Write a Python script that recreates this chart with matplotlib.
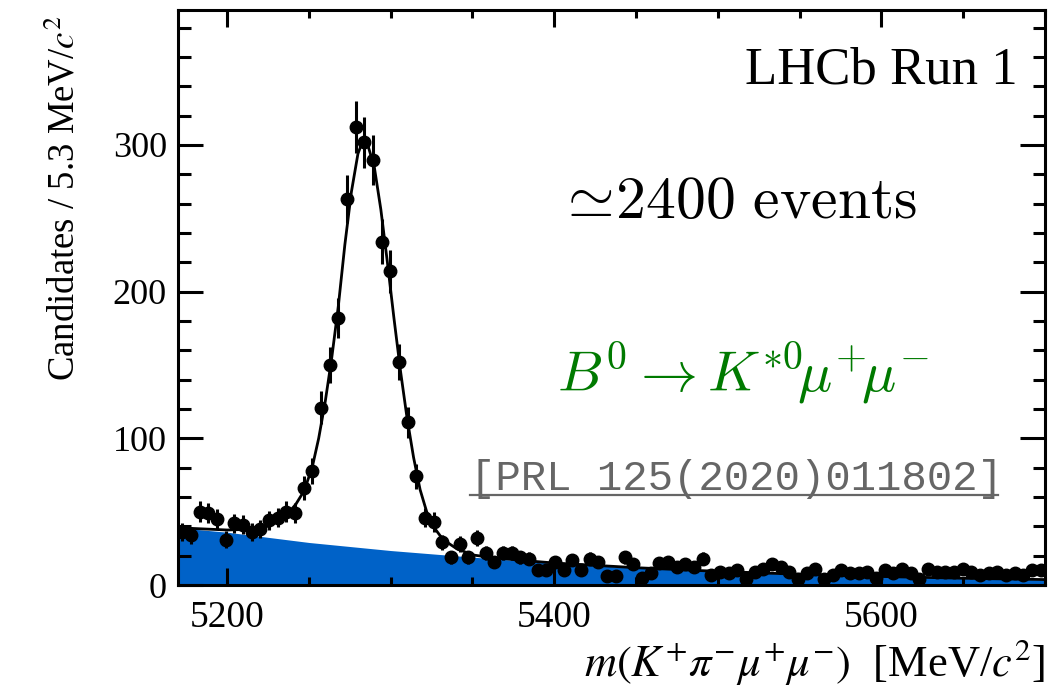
import numpy as np
import matplotlib.pyplot as plt
from matplotlib.ticker import MultipleLocator

plt.rcParams['font.family'] = ['Liberation Serif', 'DejaVu Serif']
plt.rcParams['mathtext.fontset'] = 'stix'

# histogram: 100 bins of 5.3 MeV between 5170 and 5700
m_lo, m_hi, nbins = 5170.0, 5700.0, 100
counts = [36, 34, 50, 49, 45, 31, 42, 41, 36, 38,
          44, 46, 50, 49, 66, 78, 121, 150, 182, 263,
          312, 302, 290, 234, 214, 152, 111, 74, 46, 43,
          29, 19, 28, 19, 32, 22, 16, 22, 22, 19,
          18, 10, 10, 16, 10, 17, 10, 18, 16, 6,
          6, 19, 14, 5, 8, 15, 16, 12, 14, 12,
          18, 7, 9, 8, 10, 4, 9, 11, 14, 12,
          9, 4, 8, 11, 4, 7, 10, 8, 8, 9,
          5, 10, 8, 11, 8, 4, 11, 9, 9, 9,
          11, 9, 7, 8, 9, 7, 8, 7, 10, 10]

# fitted total model
fit_mass = [5170, 5200, 5215, 5225, 5235, 5242, 5247, 5252, 5256, 5260,
            5264, 5268, 5272, 5276, 5280, 5283, 5286, 5290, 5294, 5298,
            5302, 5306, 5310, 5314, 5318, 5322, 5326, 5332, 5340, 5350,
            5360, 5380, 5400, 5450, 5500, 5550, 5600, 5650, 5700]
fit_total = [39, 37.5, 38, 40, 46, 55, 64, 80, 100, 125,
             155, 190, 232, 268, 294, 303, 300, 285, 256, 220,
             182, 146, 114, 87, 65, 50, 40, 31, 25, 20.5,
             19, 16.8, 15, 11.8, 9.3, 7.3, 5.8, 4.6, 3.7]

# combinatorial background component
bkg_mass = [5170, 5200, 5250, 5300, 5350, 5400, 5450, 5500, 5550, 5600, 5650, 5700]
bkg = [39, 36, 29, 23.5, 19, 14.8, 11.6, 9.1, 7.1, 5.6, 4.4, 3.5]

edges = np.linspace(m_lo, m_hi, nbins + 1)
centers = 0.5 * (edges[1:] + edges[:-1])
counts = np.array(counts, dtype=float)

fig = plt.figure(figsize=(10.5, 6.97), dpi=100)
ax = fig.add_axes([178 / 1050, 1 - 585 / 697, 867 / 1050, 575 / 697])

ax.fill_between(bkg_mass, 0, bkg, color='#0062c8', lw=0, zorder=1)
ax.plot(fit_mass, fit_total, color='black', lw=2.0, zorder=2)
ax.errorbar(centers, counts, yerr=np.sqrt(counts), fmt='o', color='black',
            ms=9, elinewidth=2.2, capsize=0, zorder=3)

ax.set_xlim(m_lo, m_hi)
ax.set_ylim(0, 392)

ax.xaxis.set_major_locator(MultipleLocator(200))
ax.xaxis.set_minor_locator(MultipleLocator(50))
ax.yaxis.set_major_locator(MultipleLocator(100))
ax.yaxis.set_minor_locator(MultipleLocator(20))
ax.tick_params(which='both', direction='in', top=True, right=True, width=2.2)
ax.tick_params(axis='x', which='major', length=12.5, labelsize=27, pad=11)
ax.tick_params(axis='x', which='minor', length=6)
ax.tick_params(axis='y', which='major', length=18, labelsize=26, pad=8)
ax.tick_params(axis='y', which='minor', length=9)
for sp in ax.spines.values():
    sp.set_linewidth(2.2)

ax.set_ylabel(r'Candidates / 5.3 MeV/$c^2$', fontsize=26.5, loc='top')
ax.yaxis.set_label_coords(-0.11, 0.991)
ax.set_xlabel(r'$m(K^{+}\pi^{-}\mu^{+}\mu^{-})$  [MeV/$c^2$]', fontsize=32, loc='right')
ax.xaxis.set_label_coords(1.0, -0.09)

ax.text(0.968, 0.873, 'LHCb Run 1', transform=ax.transAxes, fontsize=38,
        ha='right', va='baseline')
ax.text(0.437, 0.638, r'$\simeq\!2400\ \mathrm{events}$', transform=ax.transAxes,
        fontsize=43, ha='left', va='baseline', math_fontfamily='cm')
ax.text(0.437, 0.336, r'$B^0 \rightarrow K^{*0}\!\mu^{+}\!\mu^{-}$', transform=ax.transAxes,
        fontsize=41, ha='left', va='baseline', color='#007a00', math_fontfamily='cm')
ax.text(0.337, 0.165, '[PRL 125(2020)011802]', transform=ax.transAxes,
        fontsize=30.5, family='Liberation Mono', color='#666666', ha='left', va='baseline')
ax.plot([0.337, 0.946], [0.157, 0.157], transform=ax.transAxes, color='#666666', lw=1.6)

fig.savefig('out.png', dpi=100)
